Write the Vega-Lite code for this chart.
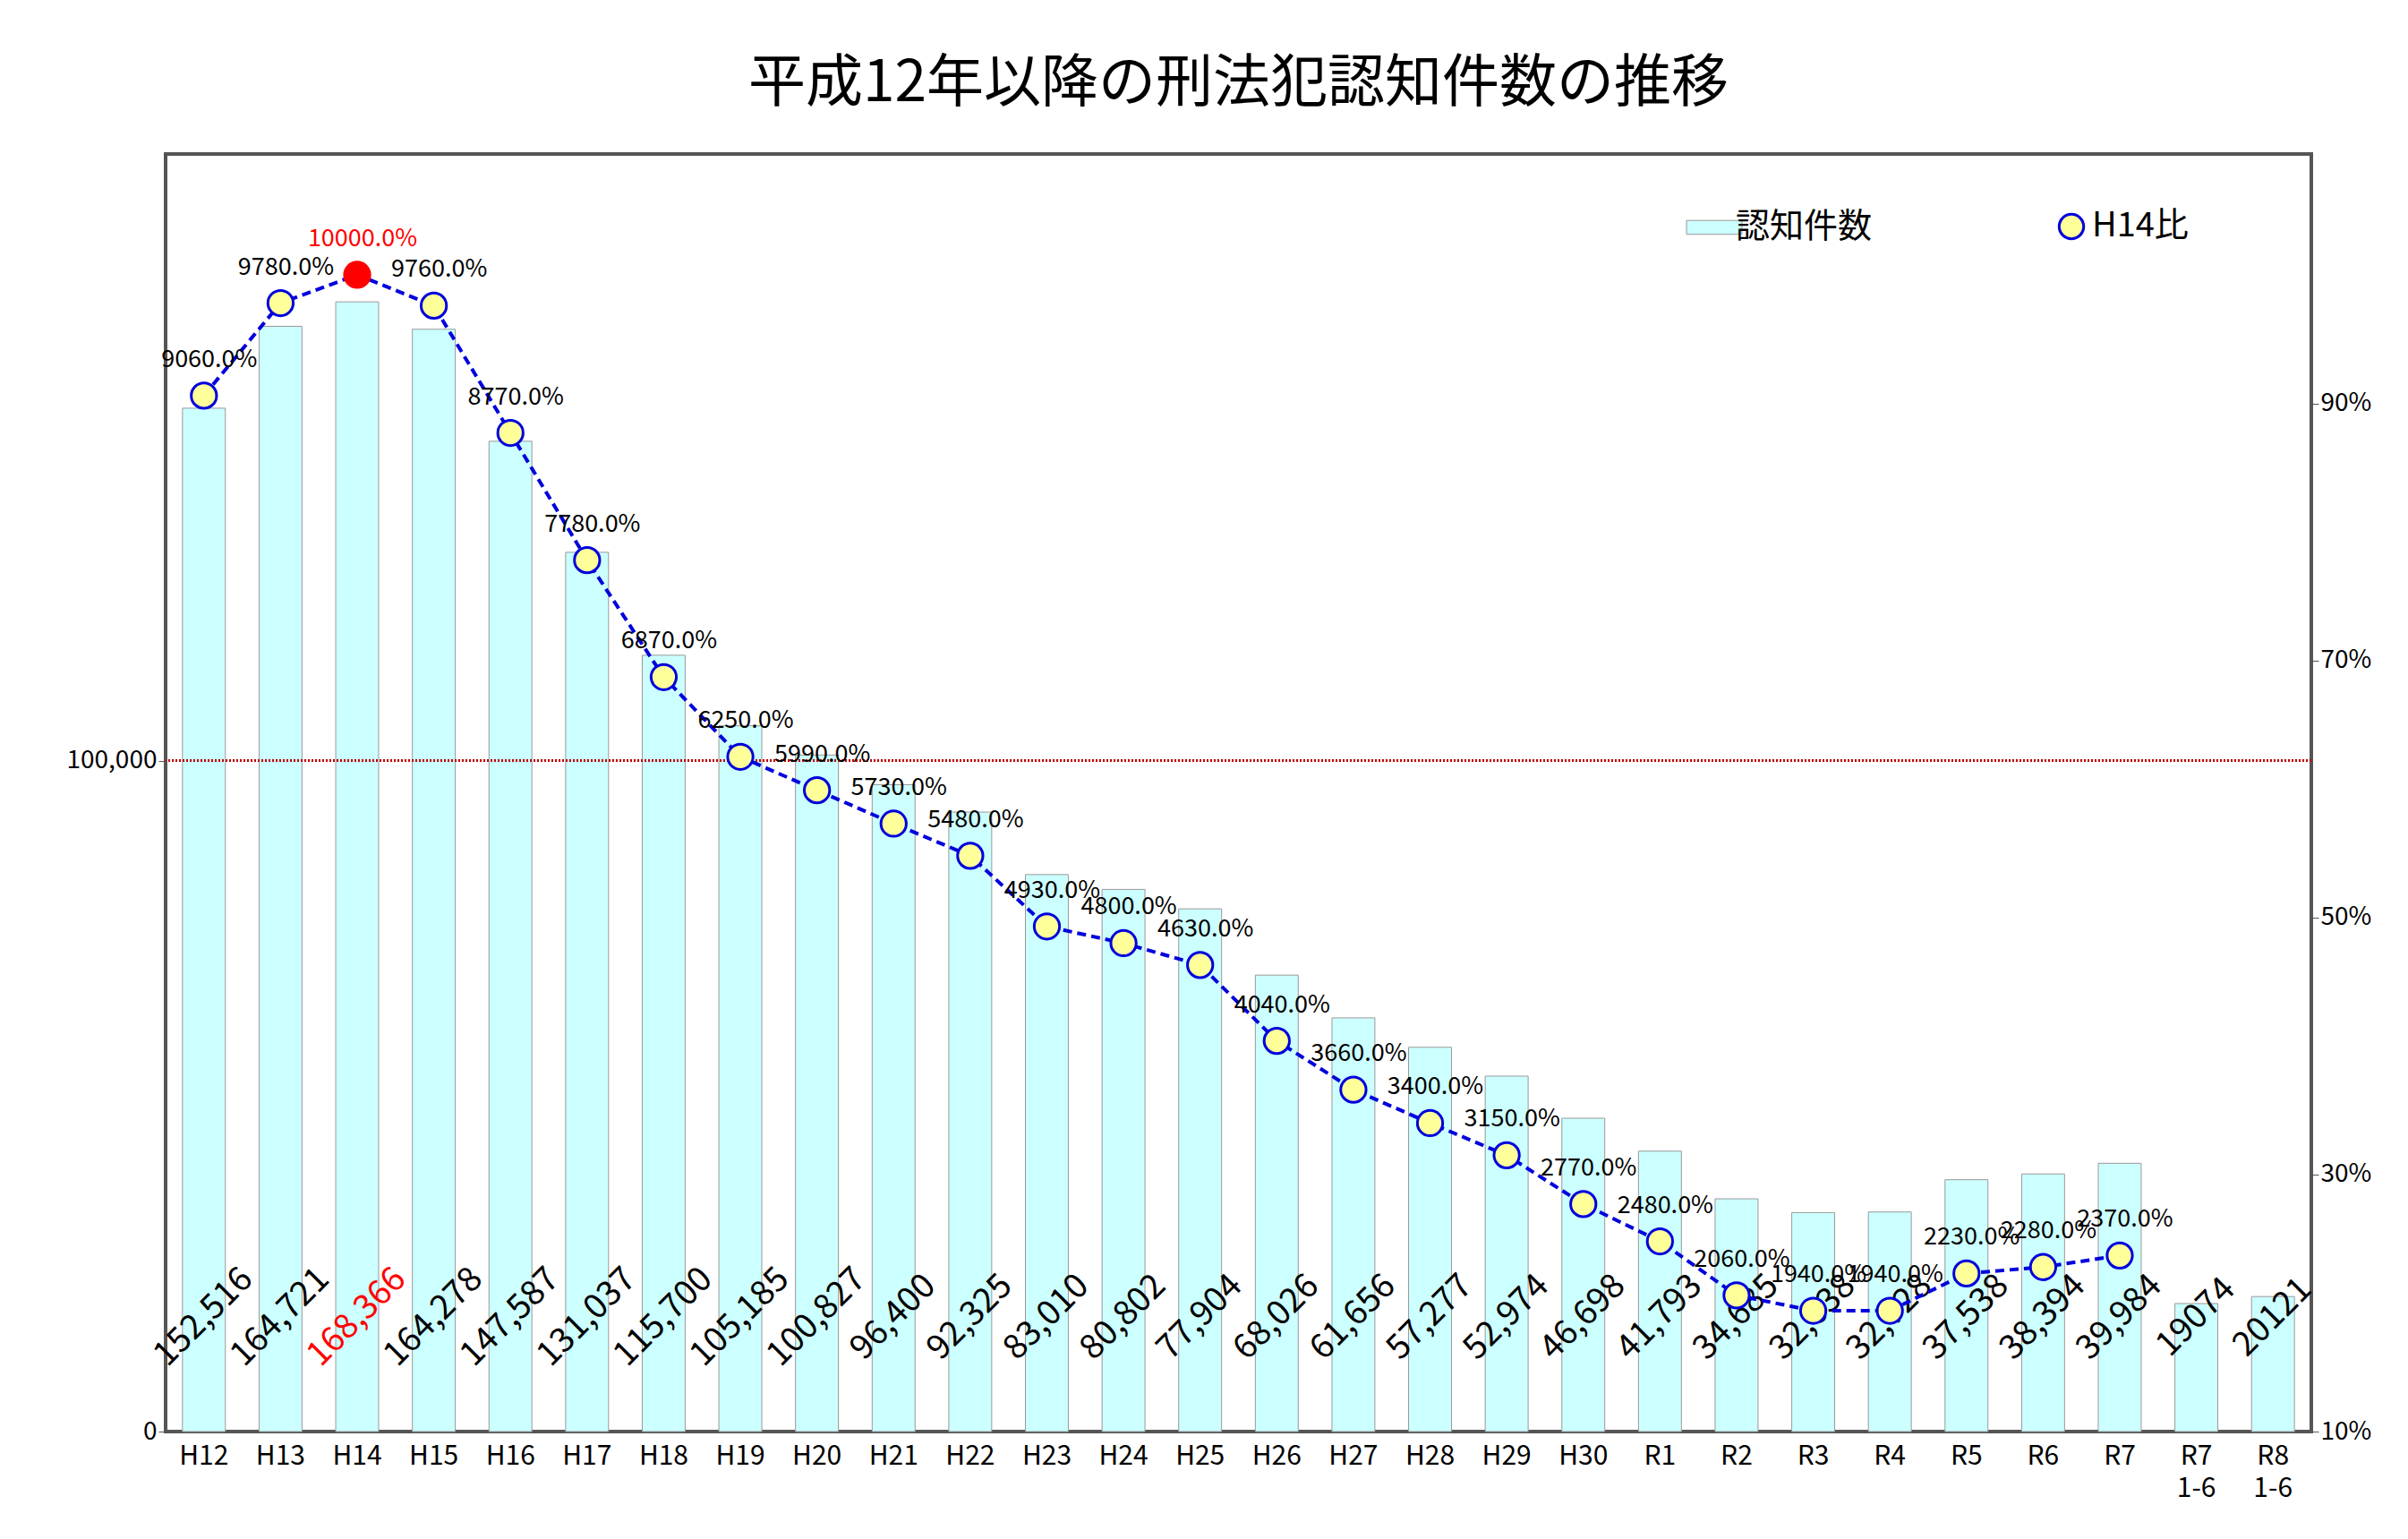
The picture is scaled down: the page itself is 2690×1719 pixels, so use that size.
{
  "$schema": "https://vega.github.io/schema/vega-lite/v6.json",
  "width": 2397,
  "height": 1427,
  "autosize": "none",
  "padding": {"left": 185, "top": 172, "right": 108, "bottom": 120},
  "background": "white",
  "title": {
    "text": "平成12年以降の刑法犯認知件数の推移",
    "font": "Noto Sans CJK JP",
    "fontSize": 64,
    "fontWeight": "normal",
    "offset": 46,
    "color": "black"
  },
  "config": {
    "font": "Noto Sans CJK JP",
    "view": {"stroke": "#555", "strokeWidth": 4},
    "axis": {"grid": false, "labelFontSize": 28, "labelColor": "black", "domain": false, "tickColor": "#555", "titleFontSize": 0}
  },
  "data": {
    "values": [
      {"cat": "H12", "count": 152516, "label": "152,516", "pct": 90.6},
      {"cat": "H13", "count": 164721, "label": "164,721", "pct": 97.8},
      {"cat": "H14", "count": 168366, "label": "168,366", "pct": 100.0},
      {"cat": "H15", "count": 164278, "label": "164,278", "pct": 97.6},
      {"cat": "H16", "count": 147587, "label": "147,587", "pct": 87.7},
      {"cat": "H17", "count": 131037, "label": "131,037", "pct": 77.8},
      {"cat": "H18", "count": 115700, "label": "115,700", "pct": 68.7},
      {"cat": "H19", "count": 105185, "label": "105,185", "pct": 62.5},
      {"cat": "H20", "count": 100827, "label": "100,827", "pct": 59.9},
      {"cat": "H21", "count": 96400, "label": "96,400", "pct": 57.3},
      {"cat": "H22", "count": 92325, "label": "92,325", "pct": 54.8},
      {"cat": "H23", "count": 83010, "label": "83,010", "pct": 49.3},
      {"cat": "H24", "count": 80802, "label": "80,802", "pct": 48.0},
      {"cat": "H25", "count": 77904, "label": "77,904", "pct": 46.3},
      {"cat": "H26", "count": 68026, "label": "68,026", "pct": 40.4},
      {"cat": "H27", "count": 61656, "label": "61,656", "pct": 36.6},
      {"cat": "H28", "count": 57277, "label": "57,277", "pct": 34.0},
      {"cat": "H29", "count": 52974, "label": "52,974", "pct": 31.5},
      {"cat": "H30", "count": 46698, "label": "46,698", "pct": 27.7},
      {"cat": "R1", "count": 41793, "label": "41,793", "pct": 24.8},
      {"cat": "R2", "count": 34685, "label": "34,685", "pct": 20.6},
      {"cat": "R3", "count": 32638, "label": "32,638", "pct": 19.4},
      {"cat": "R4", "count": 32728, "label": "32,728", "pct": 19.4},
      {"cat": "R5", "count": 37538, "label": "37,538", "pct": 22.3},
      {"cat": "R6", "count": 38394, "label": "38,394", "pct": 22.8},
      {"cat": "R7", "count": 39984, "label": "39,984", "pct": 23.7},
      {"cat": "R7 1-6", "count": 19074, "label": "19074", "pct": null},
      {"cat": "R8 1-6", "count": 20121, "label": "20121", "pct": null}
    ]
  },
  "encoding": {
    "x": {
      "field": "cat",
      "type": "nominal",
      "sort": null,
      "scale": {"paddingInner": 0.44, "paddingOuter": 0.22},
      "axis": {"labelAngle": 0, "labelExpr": "split(datum.label, ' ')", "ticks": false, "labelPadding": 12, "labelLineHeight": 36, "labelFontSize": 30}
    }
  },
  "layer": [
    {
      "layer": [
        {
          "mark": {"type": "bar", "stroke": "#999", "strokeWidth": 1},
          "encoding": {
            "y": {
              "field": "count",
              "type": "quantitative",
              "scale": {"domain": [0, 190400], "nice": false},
              "axis": {"values": [0, 100000], "labelExpr": "format(datum.value, ',')", "tickSize": 8}
            },
            "fill": {
              "datum": "認知件数",
              "scale": {"range": ["#CCFFFF"]},
              "legend": {
                "title": null,
                "orient": "none",
                "legendX": 1710,
                "legendY": 62,
                "labelFontSize": 38,
                "symbolType": "M-1.6,-0.4H1.6V0.4H-1.6Z",
                "symbolSize": 1500,
                "symbolStrokeColor": "#999",
                "symbolStrokeWidth": 1
              }
            }
          }
        },
        {
          "mark": {"type": "rule", "color": "#C00000", "strokeDash": [2, 2], "strokeWidth": 1.5},
          "encoding": {"y": {"datum": 100000}, "x": null}
        },
        {
          "mark": {"type": "text", "angle": 315, "align": "center", "baseline": "middle", "fontSize": 38},
          "encoding": {
            "y": {"datum": 17000},
            "text": {"field": "label"},
            "color": {"condition": {"test": "datum.cat == 'H14'", "value": "red"}, "value": "black"}
          }
        }
      ]
    },
    {
      "transform": [{"filter": "datum.pct != null"}],
      "layer": [
        {
          "mark": {"type": "line", "strokeDash": [10, 6], "strokeWidth": 4},
          "encoding": {
            "y": {
              "field": "pct",
              "type": "quantitative",
              "scale": {"domain": [10, 109.4], "nice": false},
              "axis": {"orient": "right", "values": [10, 30, 50, 70, 90], "labelExpr": "datum.value + '%'", "tickSize": 8}
            },
            "stroke": {
              "datum": "H14比",
              "scale": {"range": ["#0000DD"]},
              "legend": {
                "title": null,
                "orient": "none",
                "legendX": 2110,
                "legendY": 62,
                "labelFontSize": 38,
                "symbolType": "circle",
                "symbolSize": 750,
                "symbolFillColor": "#FFFF99",
                "symbolStrokeWidth": 3
              }
            }
          }
        },
        {
          "mark": {"type": "point", "filled": true, "size": 800, "strokeWidth": 3, "opacity": 1},
          "encoding": {
            "y": {"field": "pct", "type": "quantitative"},
            "fill": {"condition": {"test": "datum.cat == 'H14'", "value": "red"}, "value": "#FFFF99"},
            "stroke": {"condition": {"test": "datum.cat == 'H14'", "value": "red"}, "value": "#0000DD"}
          }
        },
        {
          "mark": {"type": "text", "dy": -40, "dx": 6, "fontSize": 27},
          "encoding": {
            "y": {"field": "pct", "type": "quantitative"},
            "text": {"field": "pct", "type": "quantitative", "format": ".1%"},
            "color": {"condition": {"test": "datum.cat == 'H14'", "value": "red"}, "value": "black"}
          },
          "transform": [{"calculate": "datum.pct / 100", "as": "pctv"}]
        }
      ]
    }
  ],
  "resolve": {"scale": {"y": "independent", "fill": "independent", "stroke": "independent", "color": "independent"}}
}
